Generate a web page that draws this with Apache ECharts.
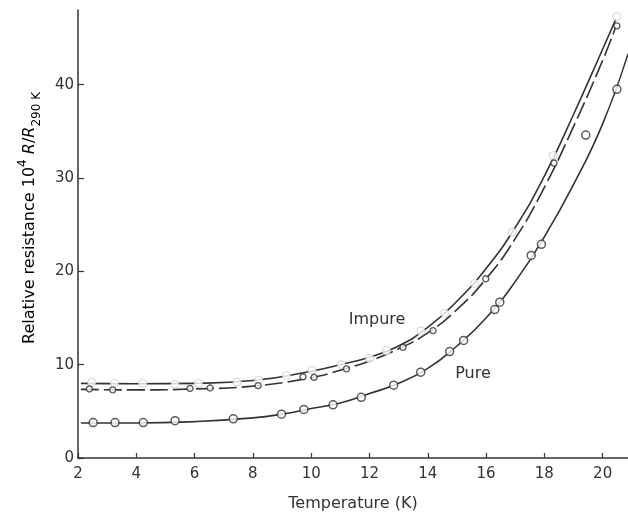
<!DOCTYPE html>
<html>
<head>
<meta charset="utf-8">
<script src="https://cdn.jsdelivr.net/npm/echarts@6/dist/echarts.min.js"></script>
<style>
html,body{margin:0;padding:0;background:#fff;}
#c{width:628px;height:517px;}
</style>
</head>
<body>
<div id="c"></div>
<script>
// Tick labels
var xTicks = [2, 4, 6, 8, 10, 12, 14, 16, 18, 20];
var yTicks = [0, 10, 20, 30, 40];

// Fitted curves [T (K), 10^4 R/R290K]
var impureCurve = [[2.1,8.0],[4,7.95],[6,8.0],[8,8.3],[10,9.3],[11,10.0],[12,10.8],[13,12.0],[14,14.0],[15,16.8],[16,20.3],[17,24.7],[18,30.2],[19,36.8],[20,43.8],[20.45,47.0]];
var dashedCurve = [[2.1,7.35],[4,7.3],[6,7.4],[8,7.7],[10,8.6],[11,9.4],[12,10.4],[13,11.7],[14,13.4],[15,15.9],[16,19.2],[17,23.5],[18,29.0],[19,35.5],[20,42.6],[20.45,46.2]];
var pureCurve = [[2.1,3.75],[4,3.75],[6,3.9],[8,4.3],[9,4.7],[10,5.3],[11,5.9],[12,6.9],[13,8.0],[14,9.6],[15,12.0],[16,15.0],[17,18.9],[18,23.7],[19,29.3],[20,35.8],[20.87,43.3]];

// Measured points
var impurePoints = [[2.47,8.1],[3.25,8.0],[4.22,8.0],[5.33,7.9],[6.13,8.0],[7.46,8.15],[8.2,8.35],[9.15,8.85],[10.03,9.4],[11.03,10.0],[12.01,10.7],[12.58,11.5],[13.76,13.6],[14.58,15.5],[15.61,18.7],[16.9,24.2],[18.3,32.4],[20.49,47.3]];
var dashedPoints = [[2.39,7.4],[3.19,7.3],[5.84,7.45],[6.53,7.5],[8.18,7.75],[9.72,8.7],[10.1,8.65],[11.21,9.55],[13.15,11.85],[14.18,13.65],[15.99,19.2],[18.33,31.6],[20.49,46.3]];
var purePoints = [[2.52,3.8],[3.27,3.8],[4.24,3.8],[5.33,4.0],[7.33,4.2],[8.98,4.7],[9.75,5.2],[10.75,5.7],[11.72,6.5],[12.83,7.8],[13.76,9.2],[14.75,11.4],[15.23,12.6],[16.3,15.9],[16.47,16.7],[17.55,21.7],[17.9,22.9],[19.42,34.6],[20.49,39.5]];

var ink = '#333';
var font = 'DejaVu Sans';

var chart = echarts.init(document.getElementById('c'), null, {renderer: 'canvas'});

function lineSeries(data, dash) {
  return {
    type: 'line', data: data, smooth: 0.5,
    showSymbol: false, symbol: 'none', silent: true,
    lineStyle: {color: ink, width: 1.6, type: dash ? [18, 5] : 'solid'},
    z: 2
  };
}
function pointSeries(data, size, border, bw) {
  return {
    type: 'scatter', data: data, symbol: 'circle', symbolSize: size, silent: true,
    itemStyle: {color: '#fff', borderColor: border, borderWidth: bw},
    z: 3
  };
}

chart.setOption({
  animation: false,
  backgroundColor: '#fff',
  grid: {left: 78, right: 0, top: 10, bottom: 56},
  xAxis: {
    type: 'value', min: 2, max: 20.87, interval: 2,
    name: 'Temperature (K)', nameLocation: 'middle', nameGap: 38,
    nameTextStyle: {fontFamily: font, fontSize: 16, color: ink},
    axisLine: {show: true, lineStyle: {color: ink, width: 1.5}},
    axisTick: {show: true, inside: true, length: 5, lineStyle: {color: ink, width: 1.2}},
    axisLabel: {
      fontFamily: font, fontSize: 15, color: ink, margin: 9, showMaxLabel: false,
      formatter: function (v) { return xTicks.indexOf(v) >= 0 ? String(v) : ''; }
    },
    splitLine: {show: false}
  },
  yAxis: {
    type: 'value', min: 0, max: 48, interval: 10,
    axisLine: {show: true, lineStyle: {color: ink, width: 1.5}},
    axisTick: {show: true, inside: true, length: 6, lineStyle: {color: ink, width: 1.2}},
    axisLabel: {
      fontFamily: font, fontSize: 15, color: ink, margin: 4, showMaxLabel: false,
      formatter: function (v) { return yTicks.indexOf(v) >= 0 ? String(v) : ''; }
    },
    splitLine: {show: false}
  },
  graphic: [
    {
      type: 'text', x: 30, y: 218, rotation: Math.PI / 2,
      style: {
        text: '{a|Relative resistance 10}{sup|4}{a| }{i|R}{a|/}{i|R}{sub|290 K}',
        align: 'center', verticalAlign: 'middle',
        rich: {
          a: {fontFamily: font, fontSize: 16, color: ink, lineHeight: 26, verticalAlign: 'middle'},
          i: {fontFamily: font, fontSize: 16, fontStyle: 'italic', color: ink, lineHeight: 26, verticalAlign: 'middle'},
          sup: {fontFamily: font, fontSize: 12, color: ink, lineHeight: 13, verticalAlign: 'top'},
          sub: {fontFamily: font, fontSize: 12, color: ink, lineHeight: 13, verticalAlign: 'bottom'}
        }
      }
    },
    {type: 'text', x: 377, y: 320, style: {text: 'Impure', fontFamily: font, fontSize: 16, fill: ink, align: 'center', verticalAlign: 'middle'}},
    {type: 'text', x: 473, y: 374, style: {text: 'Pure', fontFamily: font, fontSize: 16, fill: ink, align: 'center', verticalAlign: 'middle'}}
  ],
  series: [
    lineSeries(impureCurve, false),
    lineSeries(dashedCurve, true),
    lineSeries(pureCurve, false),
    pointSeries(impurePoints, 8, '#c8c8c8', 1),
    pointSeries(dashedPoints, 6, ink, 1.4),
    pointSeries(purePoints, 8, ink, 1.5)
  ]
});
</script>
</body>
</html>
